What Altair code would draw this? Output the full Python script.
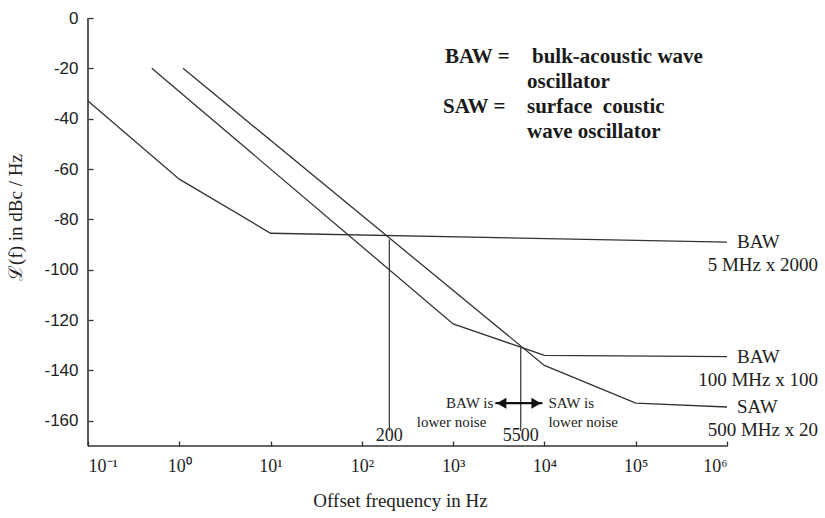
import altair as alt
import pandas as pd

# Phase-noise curves: offset frequency (Hz) and single-sideband noise (dBc/Hz)
baw5_freq = [0.1, 1, 10, 1e6]
baw5_level = [-33, -64, -85.5, -89]
baw100_freq = [0.5, 1e3, 1e4, 1e6]
baw100_level = [-20, -121.5, -134, -134.5]
saw_freq = [1.1, 1e4, 1e5, 1e6]
saw_level = [-20, -138, -153, -154.5]

curve_kind = ["BAW", "BAW", "SAW"]
curve_spec = ["5 MHz x 2000", "100 MHz x 100", "500 MHz x 20"]

# Crossover points and their drop lines
cross_freq = [200, 5500]
cross_level = [-88, -131]
cross_label = ["200", "5500"]
drop_bottom = -164

# Double arrow between the "lower noise" regions
arrow_left = 2900
arrow_right = 9500
arrow_level = -153

x_ticks = [0.1, 1, 10, 100, 1e3, 1e4, 1e5, 1e6]
y_ticks = list(range(-160, 1, 10))
x_min, x_max = 0.1, 1e6
y_min, y_max = -170, 0

SERIF = "Liberation Serif"
SANS = "Liberation Sans"
INK = "#333333"

rows = []
for name, fs, ls in [
    ("baw5", baw5_freq, baw5_level),
    ("baw100", baw100_freq, baw100_level),
    ("saw", saw_freq, saw_level),
]:
    for i, (f, l) in enumerate(zip(fs, ls)):
        rows.append({"series": name, "idx": i, "freq": f, "level": l})
curves = pd.DataFrame(rows)

x_scale = alt.Scale(type="log", domain=[x_min, x_max])
y_scale = alt.Scale(domain=[y_min, y_max])

sup = "['⁻¹','⁰','¹','²','³','⁴','⁵','⁶']"
x_axis = alt.Axis(
    values=x_ticks,
    labelExpr="'10' + " + sup + "[round(log(datum.value)/LN10) + 1]",
    offset=-5, domain=False, grid=False,
    tickSize=5, tickColor=INK, tickWidth=1.3,
    labelFont=SERIF, labelFontSize=18, labelColor="#222", labelPadding=11,
    title="Offset frequency in Hz", titleFont=SERIF, titleFontSize=19,
    titleFontWeight="normal", titleColor="#222",
    titleX=312, titleY=59, titleBaseline="middle",
)
y_axis = alt.Axis(
    values=y_ticks,
    labelExpr="datum.value % 20 == 0 ? toString(datum.value) : ''",
    offset=-5, domain=False, grid=False,
    tickSize=5, tickColor=INK, tickWidth=1.3,
    labelFont=SANS, labelFontSize=17, labelColor="#222", labelPadding=10,
    title="ℒ(f) in dBc / Hz", titleFont=SERIF, titleFontSize=19,
    titleFontWeight="normal", titleColor="#222",
    titleX=-78, titleY=199, titleBaseline="middle", titleAlign="center",
)

lines = alt.Chart(curves).mark_line(color=INK, strokeWidth=1.3).encode(
    x=alt.X("freq:Q", scale=x_scale, axis=x_axis),
    y=alt.Y("level:Q", scale=y_scale, axis=y_axis),
    detail="series:N",
    order="idx:O",
)

# Axis lines
y_line = alt.Chart(pd.DataFrame({"f": [x_min], "a": [y_min], "b": [y_max]})).mark_rule(
    color=INK, strokeWidth=1.6
).encode(x=alt.X("f:Q", scale=x_scale), y=alt.Y("a:Q", scale=y_scale), y2="b:Q")
x_line = alt.Chart(pd.DataFrame({"a": [x_min], "b": [x_max], "l": [y_min]})).mark_rule(
    color=INK, strokeWidth=1.6
).encode(x=alt.X("a:Q", scale=x_scale), x2="b:Q", y=alt.Y("l:Q", scale=y_scale))

# Crossover drop lines and labels
cross = pd.DataFrame({"freq": cross_freq, "level": cross_level, "label": cross_label,
                      "bottom": [drop_bottom] * len(cross_freq), "axis": [y_min] * len(cross_freq)})
drops = alt.Chart(cross).mark_rule(color=INK, strokeWidth=1.2).encode(
    x=alt.X("freq:Q", scale=x_scale), y=alt.Y("level:Q", scale=y_scale), y2="bottom:Q"
)
drop_labels = alt.Chart(cross).mark_text(
    font=SERIF, fontSize=18, baseline="bottom", dy=-1, color="#222"
).encode(x=alt.X("freq:Q", scale=x_scale), y=alt.Y("axis:Q", scale=y_scale), text="label:N")

# Curve end labels
ends = pd.DataFrame({
    "freq": [baw5_freq[-1], baw100_freq[-1], saw_freq[-1]],
    "level": [baw5_level[-1], baw100_level[-1], saw_level[-1]],
    "kind": curve_kind,
    "spec": curve_spec,
})
end_kind = alt.Chart(ends).mark_text(
    font=SERIF, fontSize=19, align="left", baseline="middle", dx=10, color="#222"
).encode(x=alt.X("freq:Q", scale=x_scale), y=alt.Y("level:Q", scale=y_scale), text="kind:N")
end_spec = alt.Chart(ends).mark_text(
    font=SERIF, fontSize=19, align="right", baseline="middle", dx=91, dy=23, color="#222"
).encode(x=alt.X("freq:Q", scale=x_scale), y=alt.Y("level:Q", scale=y_scale), text="spec:N")

# Double-headed arrow
arrow_df = pd.DataFrame({"a": [arrow_left], "b": [arrow_right], "l": [arrow_level]})
arrow_shaft = alt.Chart(arrow_df).mark_rule(color="#111", strokeWidth=2.2).encode(
    x=alt.X("a:Q", scale=x_scale), x2="b:Q", y=alt.Y("l:Q", scale=y_scale)
)
heads = pd.DataFrame({
    "freq": [arrow_left * 1.17, arrow_right / 1.17],
    "level": [arrow_level, arrow_level],
    "shape": ["triangle-left", "triangle-right"],
})
arrow_heads = alt.Chart(heads).mark_point(filled=True, size=120, color="#111", opacity=1).encode(
    x=alt.X("freq:Q", scale=x_scale), y=alt.Y("level:Q", scale=y_scale),
    shape=alt.Shape("shape:N", scale=None),
)

region = pd.DataFrame({
    "freq": [arrow_left, arrow_left, arrow_right, arrow_right],
    "level": [arrow_level] * 4,
    "text": ["BAW is", "lower noise", "SAW is", "lower noise"],
    "side": ["l", "l", "r", "r"],
    "line": [0, 1, 0, 1],
})
left_text = alt.Chart(region).transform_filter("datum.side == 'l'")
right_text = alt.Chart(region).transform_filter("datum.side == 'r'")
enc = dict(x=alt.X("freq:Q", scale=x_scale), y=alt.Y("level:Q", scale=y_scale), text="text:N")
baw_is = left_text.transform_filter("datum.line == 0").mark_text(
    font=SERIF, fontSize=15, align="right", baseline="middle", dx=-2, color="#222").encode(**enc)
baw_low = left_text.transform_filter("datum.line == 1").mark_text(
    font=SERIF, fontSize=15, align="right", baseline="middle", dx=-9, dy=19, color="#222").encode(**enc)
saw_is = right_text.transform_filter("datum.line == 0").mark_text(
    font=SERIF, fontSize=15, align="left", baseline="middle", dx=6, color="#222").encode(**enc)
saw_low = right_text.transform_filter("datum.line == 1").mark_text(
    font=SERIF, fontSize=15, align="left", baseline="middle", dx=6, dy=19, color="#222").encode(**enc)

# Abbreviation note
note_lines = [
    ("BAW =", 357, 39),
    ("bulk-acoustic wave", 444, 39),
    ("oscillator", 439, 64),
    ("SAW =", 355, 89),
    ("surface\u00a0\u00a0coustic", 439, 89),
    ("wave oscillator", 439, 114),
]
notes = [
    alt.Chart(alt.Data(values=[{}])).mark_text(
        font=SERIF, fontSize=21, fontWeight="bold", align="left", baseline="middle", color="#1a1a1a"
    ).encode(x=alt.value(px), y=alt.value(py), text=alt.value(t))
    for t, px, py in note_lines
]

chart = alt.layer(
    lines, y_line, x_line, drops, drop_labels, end_kind, end_spec,
    arrow_shaft, arrow_heads, baw_is, baw_low, saw_is, saw_low, *notes,
).properties(
    width=639, height=428,
    autosize=alt.AutoSizeParams(type="none"),
    padding={"left": 88, "top": 18, "right": 98, "bottom": 72},
    background="white",
).configure_view(stroke=None)

chart.save("out.html", embed_options={"renderer": "svg", "actions": False})
